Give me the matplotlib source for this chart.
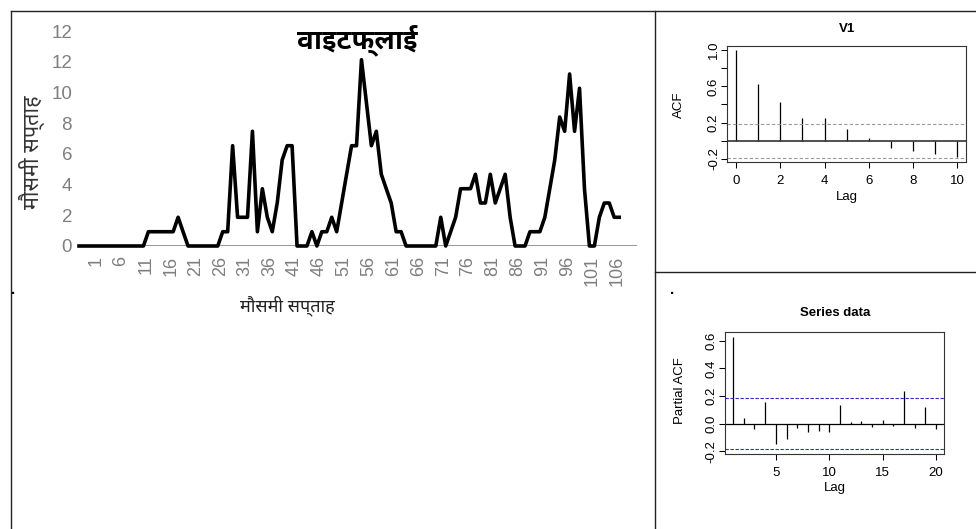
import os
import numpy as np
import matplotlib
matplotlib.use("Agg")
import matplotlib.pyplot as plt
from matplotlib import font_manager
from matplotlib.font_manager import FontProperties
from matplotlib.lines import Line2D

# whitefly per seasonal week
whitefly = [0, 0, 0, 0, 0, 0, 0, 0, 0, 0, 0, 0, 0, 0,
            0.93, 0.93, 0.93, 0.93, 0.93, 0.93, 1.87, 0.93,
            0, 0, 0, 0, 0, 0, 0, 0.93, 0.93, 6.53, 1.87, 1.87, 1.87,
            7.47, 0.93, 3.73, 1.87, 0.93, 2.8, 5.6, 6.53, 6.53,
            0, 0, 0, 0.93, 0, 0.93, 0.93, 1.87, 0.93, 2.8, 4.67,
            6.53, 6.53, 12.13, 9.33, 6.53, 7.47, 4.67, 3.73, 2.8,
            0.93, 0.93, 0, 0, 0, 0, 0, 0, 0, 1.87, 0, 0.93, 1.87,
            3.73, 3.73, 3.73, 4.67, 2.8, 2.8, 4.67, 2.8, 3.73, 4.67,
            1.87, 0, 0, 0, 0.93, 0.93, 0.93, 1.87, 3.73, 5.6, 8.4,
            7.47, 11.2, 7.47, 10.27, 3.73, 0, 0, 1.87, 2.8, 2.8,
            1.87, 1.87]
week_labels = ["1", "6", "11", "16", "21", "26", "31", "36", "41", "46", "51",
               "56", "61", "66", "71", "76", "81", "86", "91", "96", "101", "106"]
y_labels = ["0", "2", "4", "6", "8", "10", "12", "12"]

# acf / pacf of the series
acf_lags = [0, 1, 2, 3, 4, 5, 6, 7, 8, 9, 10]
acf_vals = [1.0, 0.63, 0.427, 0.256, 0.249, 0.127, 0.033, -0.085, -0.11, -0.151, -0.185]
pacf_lags = [1, 2, 3, 4, 5, 6, 7, 8, 9, 10, 11, 12, 13, 14, 15, 16, 17, 18, 19, 20]
pacf_vals = [0.627, 0.041, -0.041, 0.154, -0.145, -0.111, -0.031, -0.06, -0.053, -0.063,
             0.133, 0.012, 0.022, -0.024, 0.027, -0.014, 0.234, -0.031, 0.123, -0.041]
conf = 0.187

title = "वाइटफ्लाई"
week_name = "मौसमी सप्ताह"


def devanagari_fonts():
    # pick a regular and a bold font that can draw devanagari
    from fontTools.ttLib import TTFont
    paths = {}
    other = []
    for path in font_manager.findSystemFonts():
        base = os.path.basename(path)
        if base.startswith("NotoSansDevanagari"):
            paths[base] = path
        elif not other and "unifont" not in base.lower():
            try:
                cmap = TTFont(path, fontNumber=0, lazy=True).getBestCmap() or {}
            except Exception:
                continue
            if 0x0935 in cmap:
                other.append(path)
    reg = bold = None
    for name in ["NotoSansDevanagari-Regular.ttf", "NotoSansDevanagari[wdth,wght].ttf",
                 "NotoSansDevanagariUI-Regular.ttf"]:
        if name in paths:
            reg = paths[name]
            break
    for name in ["NotoSansDevanagari-Bold.ttf", "NotoSansDevanagariUI-Bold.ttf"]:
        if name in paths:
            bold = paths[name]
            break
    if reg is None and paths:
        reg = sorted(paths.values())[0]
    if reg is None and other:
        reg = other[0]
    if bold is None:
        bold = reg
    return reg, bold


reg_path, bold_path = devanagari_fonts()


def hindi(size, bold=False):
    path = bold_path if bold else reg_path
    if path:
        return FontProperties(fname=path, size=size)
    return FontProperties(family="DejaVu Sans", size=size)


plt.rcParams["font.family"] = ["Liberation Sans", "DejaVu Sans"]

W, H = 976, 529
fig = plt.figure(figsize=(W / 100, H / 100), dpi=100)


def rect(x0, y0, x1, y1):
    # pixel box -> figure fraction
    return [x0 / W, 1 - y1 / H, (x1 - x0) / W, (y1 - y0) / H]


# ---- left: excel style line chart
ax = fig.add_axes(rect(79, 31, 637, 246))
x = np.arange(len(whitefly))
ax.axhline(0, color="#8c8c8c", lw=2, zorder=2)
ax.plot(x, whitefly, color="black", lw=2.6, clip_on=False, zorder=3)
ax.set_xlim(0, 112.6)
ax.set_ylim(0, 14)
ax.set_yticks(np.arange(0, 15, 2))
ax.set_yticklabels(y_labels)
ax.set_xticks(np.arange(3.5, 109, 5))
ax.set_xticklabels(week_labels, rotation=90)
ax.tick_params(length=0, colors="#7f7f7f", labelsize=13.5)
ax.tick_params(axis="y", pad=5)
ax.tick_params(axis="x", pad=7, labelsize=13)
for s in ax.spines.values():
    s.set_visible(False)

fig.text(357 / W, 1 - 40 / H, title, ha="center", va="center",
         fontproperties=hindi(20, bold=True))
fig.text(287 / W, 1 - 306 / H, week_name, ha="center", va="center",
         color="#222222", fontproperties=hindi(13))
fig.text(32 / W, 1 - 152 / H, week_name, ha="center", va="center",
         rotation=90, color="#333333", fontproperties=hindi(15.5))


# ---- right: R style acf / pacf
def r_axes(box, xlim, ylim):
    a = fig.add_axes(rect(*box))
    a.set_xlim(*xlim)
    a.set_ylim(*ylim)
    for s in a.spines.values():
        s.set_linewidth(0.8)
        s.set_color("#333333")
    a.tick_params(direction="out", length=4.3, width=0.75, labelsize=9.5)
    a.tick_params(axis="x", pad=5)
    a.tick_params(axis="y", pad=1, labelrotation=90)
    return a


ax1 = r_axes((727.3, 45.7, 966, 162.3), (-0.4, 10.4), (-0.238, 1.048))
ax1.vlines(acf_lags, 0, acf_vals, color="black", lw=0.9)
ax1.axhline(0, color="#333333", lw=1.2)
for c in (conf, -conf):
    ax1.axhline(c, color="#999999", lw=0.8, ls=(0, (3, 2)))
ax1.set_xticks([0, 2, 4, 6, 8, 10])
ax1.set_yticks([-0.2, 0.0, 0.2, 0.4, 0.6, 0.8, 1.0])
ax1.set_yticklabels(["-0.2", "", "0.2", "", "0.6", "", "1.0"], va="center")
fig.text(846.7 / W, 1 - 29.3 / H, "V1", ha="center", va="center", fontsize=9.5,
         fontweight="bold")
fig.text(846.7 / W, 1 - 196.7 / H, "Lag", ha="center", va="center", fontsize=9.5)
fig.text(679.3 / W, 1 - 105 / H, "ACF", ha="center", va="center", fontsize=9.5,
         rotation=90)

ax2 = r_axes((725, 332, 944.3, 454), (0.24, 20.76), (-0.22, 0.663))
ax2.vlines(pacf_lags, 0, pacf_vals, color="black", lw=0.9)
ax2.axhline(0, color="black", lw=0.9)
for c in (conf, -conf):
    ax2.axhline(c, color="#2b2bd0", lw=0.8, ls=(0, (3, 1.5)))
ax2.set_xticks([5, 10, 15, 20])
ax2.set_yticks([-0.2, 0.0, 0.2, 0.4, 0.6])
ax2.set_yticklabels(["-0.2", "0.0", "0.2", "0.4", "0.6"], va="center")
fig.text(834.7 / W, 1 - 313.3 / H, "Series data", ha="center", va="center",
         fontsize=9.5, fontweight="bold")
fig.text(834.7 / W, 1 - 488.3 / H, "Lag", ha="center", va="center", fontsize=9.5)
fig.text(680 / W, 1 - 391 / H, "Partial ACF", ha="center", va="center",
         fontsize=9.5, rotation=90)

# ---- table borders around the cells
lines = [((10.7, 10.7), (10.7, H)),
         ((10.7, 10.7), (W, 10.7)),
         ((655, 10.7), (655, H)),
         ((655, 271.5), (W, 271.5))]
for (xa, ya), (xb, yb) in lines:
    fig.add_artist(Line2D([xa / W, xb / W], [1 - ya / H, 1 - yb / H],
                          transform=fig.transFigure, color="#222222", lw=1))
fig.text(13 / W, 1 - 290 / H, ".", fontsize=11, fontweight="bold", ha="center", va="center")
fig.text(672 / W, 1 - 290 / H, ".", fontsize=11, fontweight="bold", ha="center", va="center")

fig.savefig("out.png", dpi=100)
